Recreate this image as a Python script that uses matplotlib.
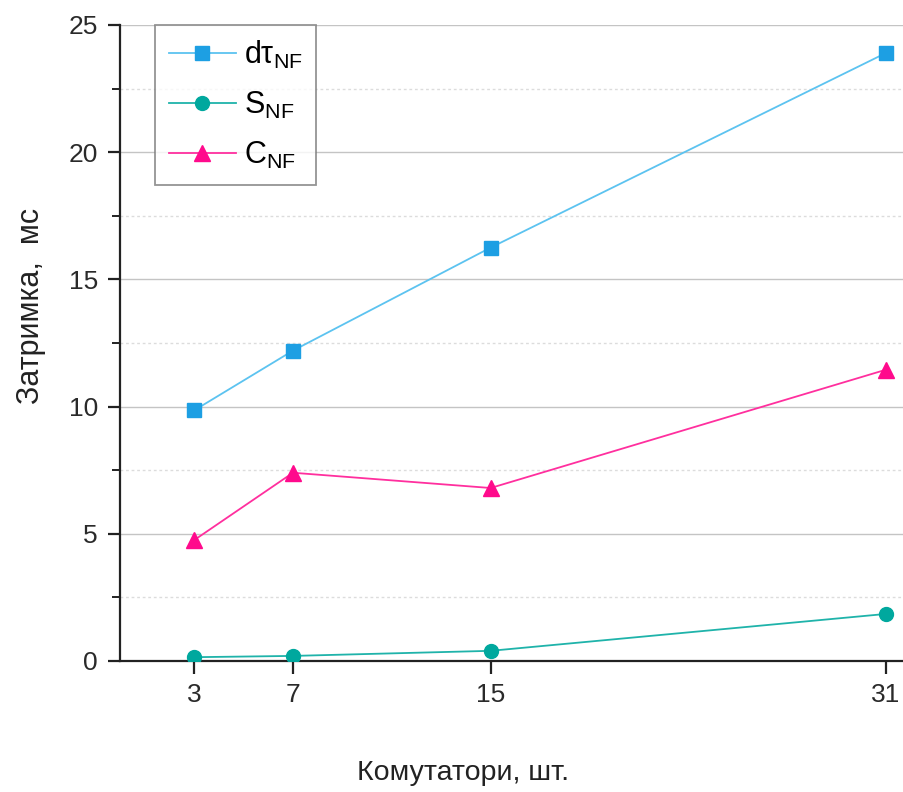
import matplotlib
matplotlib.use("Agg")
import matplotlib.pyplot as plt
from matplotlib.ticker import MultipleLocator, FixedLocator

plt.rcParams['font.family'] = ['Liberation Sans', 'DejaVu Sans']
plt.rcParams['mathtext.fontset'] = 'custom'
plt.rcParams['mathtext.rm'] = 'Liberation Sans'
plt.rcParams['mathtext.it'] = 'Liberation Sans'

# Number of switches
switches = [3, 7, 15, 31]

# Delay values, ms
dtau_nf = [9.85, 12.2, 16.25, 23.9]
s_nf = [0.15, 0.2, 0.4, 1.85]
c_nf = [4.75, 7.4, 6.8, 11.45]

series_labels = [r'd$\tau_{\mathrm{NF}}$', r'S$_{\mathrm{NF}}$', r'C$_{\mathrm{NF}}$']
x_label = 'Комутатори, шт.'
y_label = 'Затримка,  мс'

fig = plt.figure(figsize=(9.04, 7.92), dpi=100)
ax = fig.add_axes([120 / 904, 131 / 792, 784 / 904, 636 / 792])

ax.plot(switches, dtau_nf, color='#5cc3f0', lw=1.3, marker='s', ms=10,
        mfc='#1d9fe3', mec='#1d9fe3', label=series_labels[0], zorder=3)
ax.plot(switches, s_nf, color='#1fb3aa', lw=1.3, marker='o', ms=10,
        mfc='#00a89e', mec='#00a89e', label=series_labels[1], zorder=3)
ax.plot(switches, c_nf, color='#ff2f9e', lw=1.3, marker='^', ms=11,
        mfc='#ff0a8c', mec='#ff0a8c', label=series_labels[2], zorder=3)

ax.set_xlim(0, 31.73)
ax.set_ylim(0, 25)
ax.xaxis.set_major_locator(FixedLocator(switches))
ax.yaxis.set_major_locator(MultipleLocator(5))
ax.yaxis.set_minor_locator(MultipleLocator(2.5))

ax.grid(True, which='major', axis='y', color='#c4c4c4', lw=1.0, ls='-', zorder=0)
ax.grid(True, which='minor', axis='y', color='#dcdcdc', lw=1.0, ls=(0, (2, 2)), zorder=0)

for side in ('top', 'right'):
    ax.spines[side].set_visible(False)
for side in ('left', 'bottom'):
    ax.spines[side].set_linewidth(1.6)
    ax.spines[side].set_color('#222222')

ax.tick_params(axis='both', which='major', direction='out', length=9, width=1.6,
               colors='#222222', labelsize=19, labelcolor='#2a2a2a')
ax.tick_params(axis='x', which='major', pad=7)
ax.tick_params(axis='y', which='major', pad=7)
ax.tick_params(axis='y', which='minor', direction='out', length=6, width=1.4, colors='#222222')

ax.set_xlabel(x_label, fontsize=20.5, color='#222222')
ax.set_ylabel(y_label, fontsize=22, color='#222222')
ax.xaxis.set_label_coords(0.438, -0.155)
ax.yaxis.set_label_coords(-0.095, 0.558)

leg = ax.legend(loc='upper left', bbox_to_anchor=(35 / 784, 1.0), borderaxespad=0,
                fontsize=22, frameon=True, fancybox=False, handlelength=2.2,
                handletextpad=0.25, labelspacing=0.62, borderpad=0.45)
leg.get_frame().set_edgecolor('#7a7a7a')
leg.get_frame().set_linewidth(1.3)

fig.savefig('out.png', dpi=100)
